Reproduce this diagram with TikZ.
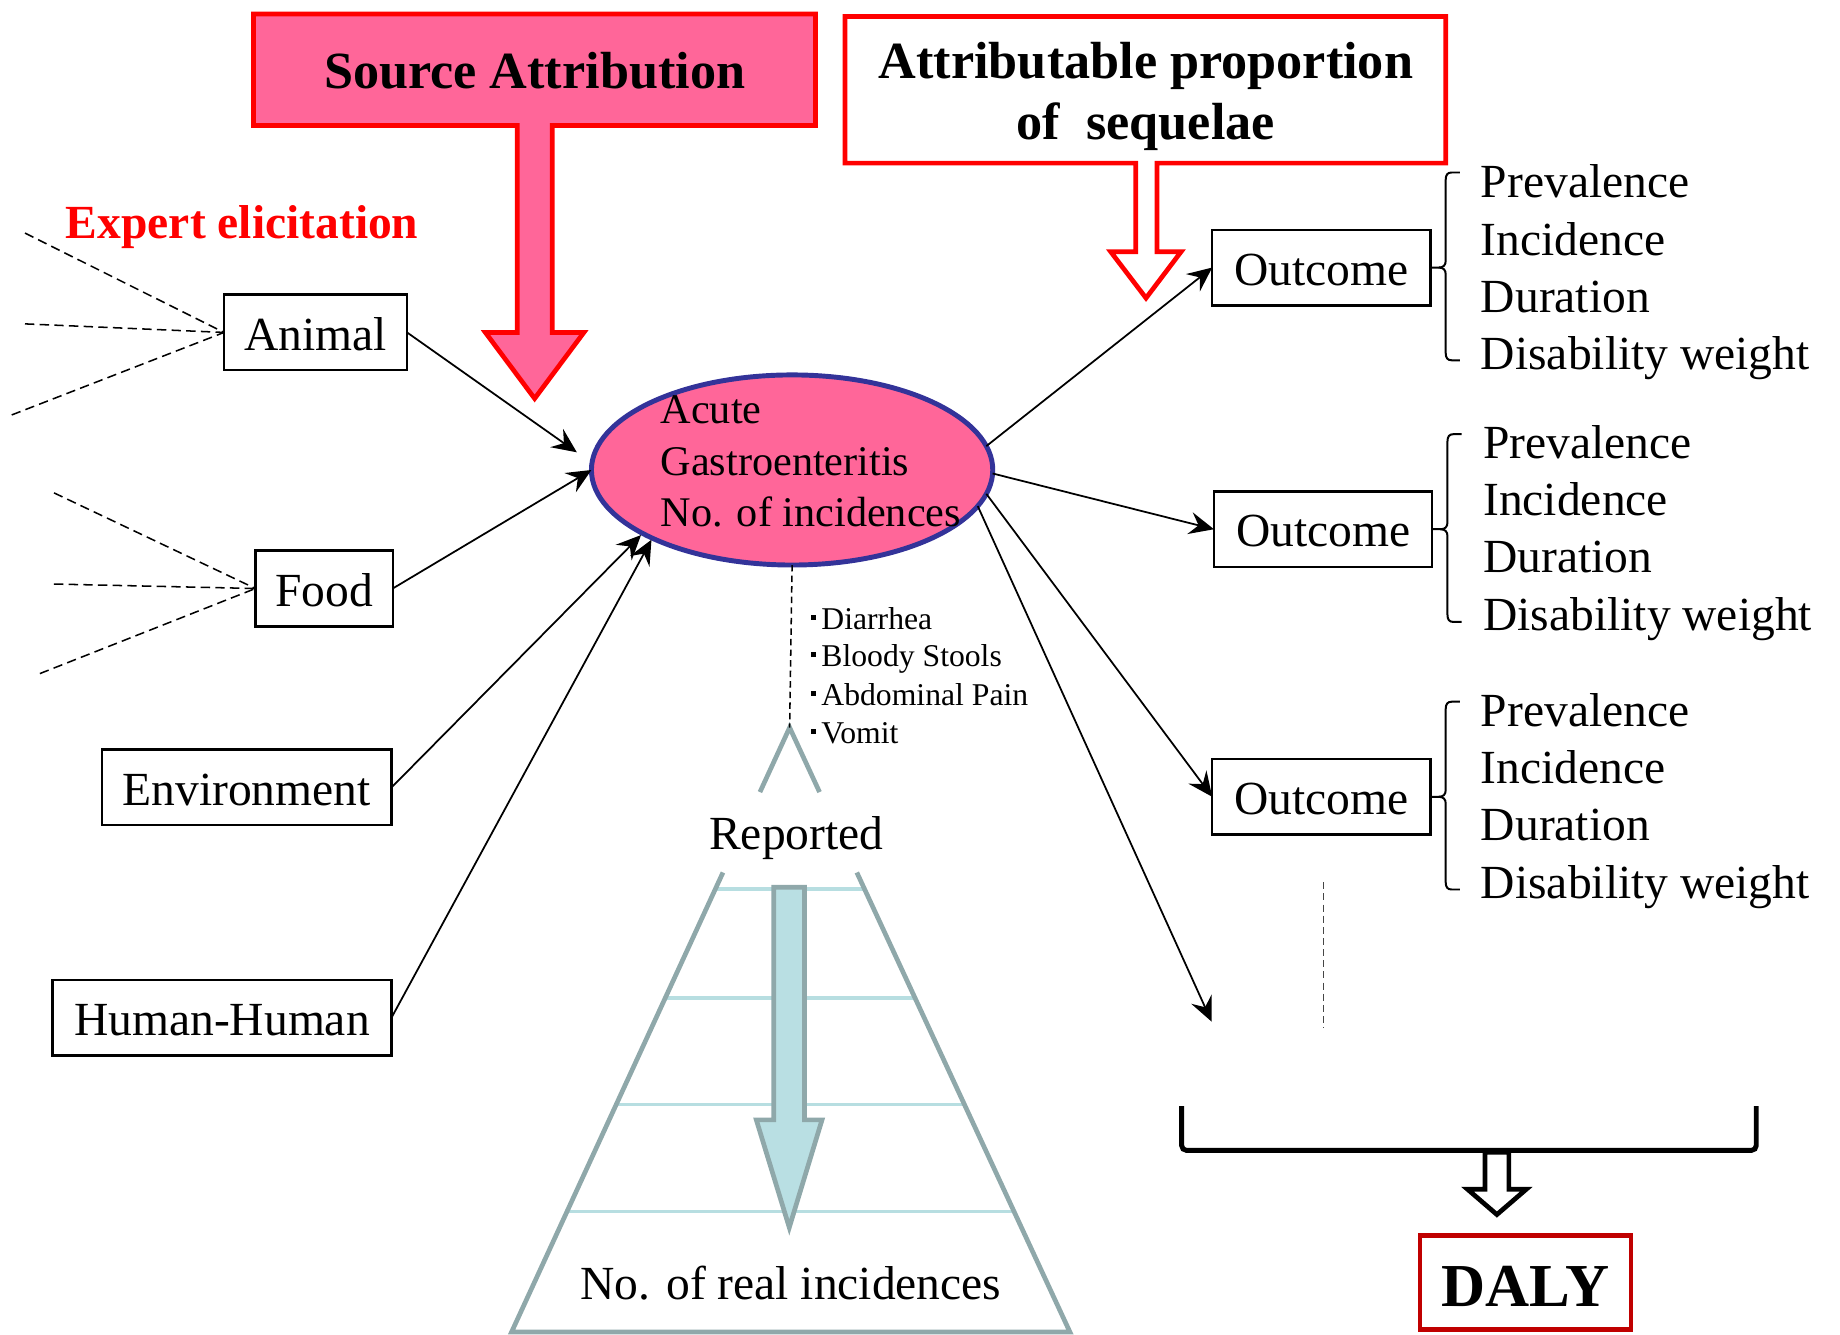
\documentclass[tikz,border=0pt]{standalone}
\usepackage{fontspec}
\setmainfont{Liberation Serif}
\usetikzlibrary{arrows.meta,shapes.geometric,calc}

\definecolor{pinkfill}{RGB}{255,102,153}
\definecolor{calloutred}{RGB}{255,0,0}
\definecolor{ellblue}{RGB}{51,51,153}
\definecolor{dalyred}{RGB}{192,0,0}
\definecolor{pyrgray}{RGB}{143,168,170}
\definecolor{pyrline}{RGB}{183,222,225}
\definecolor{pyrfill}{RGB}{185,223,227}
\definecolor{dotgray}{RGB}{70,70,70}

\tikzset{
  pics/sidebrace/.style={code={
    \draw[brc] (0,0) -- (7,0) .. controls (11,0) and (13,-2) .. (13,-6)
      -- (13,-75) .. controls (13,-79) and (14.5,-81) .. (18,-81) -- (25,-81);
    \draw[brc] (7,0) .. controls (11,0) and (13,2) .. (13,6)
      -- (13,73) .. controls (13,77) and (14.5,79) .. (18,79) -- (25,79);
  }}
}

\begin{document}
\begin{tikzpicture}[x=1pt,y=-1pt,
  every node/.style={inner sep=0pt,outer sep=0pt},
  txt/.style={font=\fontsize{40.5}{48}\selectfont},
  head/.style={font=\fontsize{44.5}{53}\selectfont\bfseries},
  srcbox/.style={draw,line width=2pt,minimum height=64.5pt,text height=30pt,text depth=0pt,txt},
  conn/.style={line width=1.5pt,-{Stealth[length=21pt,width=19pt,inset=7.5pt]}},
  elic/.style={line width=1.3pt,dash pattern=on 8pt off 4.5pt},
  stemdash/.style={line width=1.3pt,dash pattern=on 5.5pt off 3.5pt},
  brc/.style={line width=1.7pt},
  callout/.style={line width=4pt,line join=miter},
]
\useasboundingbox (0,0) rectangle (1568,1137);

% --- Source attribution callout ---
\draw[callout,draw=calloutred,fill=pinkfill]
  (216,12) -- (695,12) -- (695,107) -- (470.6,107) -- (470.6,283.4) -- (497.5,283.4)
  -- (455.6,339.6) -- (413.7,283.4) -- (440.7,283.4) -- (440.7,107) -- (216,107) -- cycle;
\node[anchor=base,head] (srctitle) at (455.6,75.7) {Source Attribution};

% --- Attributable proportion callout ---
\draw[callout,draw=calloutred,fill=white]
  (720,14) -- (1232,14) -- (1232,139) -- (985.9,139) -- (985.9,214.5) -- (1006.5,214.5)
  -- (976.6,254) -- (946.5,214.5) -- (967.8,214.5) -- (967.8,139) -- (720,139) -- cycle;
\node[anchor=base,head] (aptitle1) at (976.5,66.7) {Attributable proportion};
\node[anchor=base,head] (aptitle2) at (976.5,118.6) {of~~sequelae};

% --- Expert elicitation ---
\node[anchor=base west,font=\fontsize{40.5}{48}\selectfont\bfseries,text=calloutred]
  (expert) at (56.2,203.1) {Expert elicitation};

% --- Sources ---
\node[srcbox,minimum width=156pt] (animal) at (268.9,283.3) {Animal};
\node[srcbox,minimum width=117pt] (food) at (276.2,501.5) {Food};
\node[srcbox,minimum width=247pt] (env) at (210.2,671) {Environment};
\node[srcbox,minimum width=289pt] (human) at (189.2,867.1) {Human-Human};

\coordinate (ea1) at (21.3,198.6);
\coordinate (ea2) at (21.3,276);
\coordinate (ea3) at (10,353.6);
\coordinate (ef1) at (46,420);
\coordinate (ef2) at (46,497.7);
\coordinate (ef3) at (34,574);
\foreach \c in {ea1,ea2,ea3} \draw[elic] (\c) -- (animal.west);
\foreach \c in {ef1,ef2,ef3} \draw[elic] (\c) -- (food.west);

% --- Central disease node ---
\node[ellipse,draw=ellblue,fill=pinkfill,line width=4.2pt,
      minimum width=342pt,minimum height=162pt] (age) at (675,400.5) {};
\node[anchor=base west,font=\fontsize{36}{44}\selectfont] (ageA) at (563,360.7) {Acute};
\node[anchor=base west,font=\fontsize{36}{44}\selectfont] (ageB) at (563,404.8) {Gastroenteritis};
\node[anchor=base west,font=\fontsize{36}{44}\selectfont] (ageC) at (563,448.8) {No. of incidences};

% --- Outcomes ---
\node[srcbox,minimum width=186pt] (o1) at (1126,228) {Outcome};
\node[srcbox,minimum width=186pt] (o2) at (1127.5,451) {Outcome};
\node[srcbox,minimum width=186pt] (o3) at (1126,679) {Outcome};
\coordinate (more) at (1032.5,870.6);

% --- Connectors ---
\draw[conn,shorten >=15.8pt] (animal.east) -- (age.178.4);
\draw[conn] (food.east) -- (age.180);
\draw[conn,shorten >=2pt] (env.east) -- (age.203.4);
\draw[conn,shorten >=1.5pt] (human.east) -- (age.206);
\draw[conn] (age.7.5) -- (o1.west);
\draw[conn] (age.-1) -- (o2.west);
\draw[conn] (age.-7.7) -- (o3.west);
\draw[conn] (age.-11) -- (more);

% --- Braces and outcome parameters ---
\pic at (o1.east) {sidebrace};
\pic at (o2.east) {sidebrace};
\pic at (o3.east) {sidebrace};
\foreach \xx/\yy [count=\g] in {1262/168.5,1264/390.3,1262/618.7}{
  \foreach \tx [count=\k] in {Prevalence,Incidence,Duration,Disability weight}{
    \node[anchor=base west,txt] (par\g-\k) at (\xx,\yy+48.9*\k-48.9) {\tx};
  }
}

% --- Further outcomes (continuation) ---
\coordinate (dotsTop) at (1127.8,751.8);
\coordinate (dotsBot) at (1127.8,876.2);
\draw[line width=1.3pt,draw=dotgray,dash pattern=on 6pt off 3.5pt] (dotsTop) -- (dotsBot);

% --- Summation bracket and DALY ---
\draw[line width=4.2pt,rounded corners=4pt]
  (1007,942.7) -- (1007,980.3) -- (1496.6,980.3) -- (1496.6,942.7);
\draw[line width=4pt,fill=white,line join=miter]
  (1265.4,982) -- (1285.8,982) -- (1285.8,1013.4) -- (1300.7,1013.4) -- (1275.6,1035)
  -- (1250.5,1013.4) -- (1265.4,1013.4) -- cycle;
\node[draw=dalyred,line width=4pt,minimum width=180pt,minimum height=80pt,
      text height=40.4pt,text depth=0pt,font=\fontsize{52}{60}\selectfont\bfseries]
  (daly) at (1300,1093) {DALY};

% --- Symptoms ---
\foreach \yy/\tx [count=\s] in {536.3/Diarrhea,568/Bloody Stools,600.8/Abdominal Pain,633.4/Vomit}
  \node[anchor=base west,font=\fontsize{27}{32}\selectfont] (sym\s) at (690.8,\yy)
    {\rule[8pt]{4.2pt}{4.2pt}\hspace{5pt}\tx};

% --- Reporting pyramid ---
\coordinate (apex) at (672.9,620);
\coordinate (bl) at (436,1135);
\coordinate (br) at (911.7,1135);
\foreach \t in {0.2668,0.4474,0.6237,0.8008}
  \draw[line width=3pt,draw=pyrline] ($(apex)!\t!(bl)$) -- ($(apex)!\t!(br)$);
\draw[line width=4pt,draw=pyrgray] ($(apex)!0.1068!(bl)$) -- (apex) -- ($(apex)!0.1068!(br)$);
\draw[line width=4pt,draw=pyrgray] ($(apex)!0.2398!(bl)$) -- (bl) -- (br) -- ($(apex)!0.2398!(br)$);
\draw[line width=4pt,draw=pyrgray,fill=pyrfill,line join=miter]
  (659.3,756) -- (685.6,756) -- (685.6,954.3) -- (700.5,954.3) -- (672.6,1046)
  -- (644.5,954.3) -- (659.3,954.3) -- cycle;
\node[anchor=base,txt] (rep) at (678.6,724) {Reported};
\node[anchor=base,txt] (real) at (674,1107) {No. of real incidences};
\draw[stemdash] (age.south) -- (apex);

\end{tikzpicture}
\end{document}
